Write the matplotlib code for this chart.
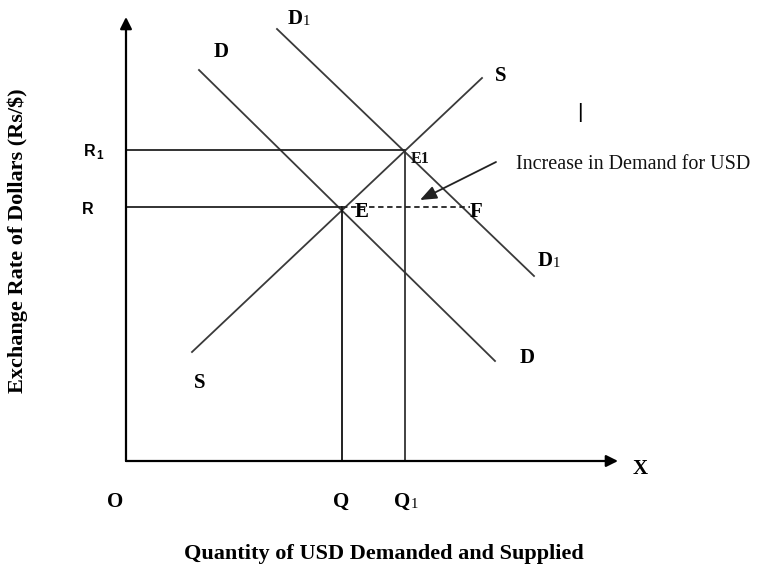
import matplotlib
matplotlib.use("Agg")
import matplotlib.pyplot as plt

# ---- data (diagram units: origin O at the axes corner, y upward) ----
x_axis_end = 492
y_axis_end = 444

demand_D_x = [73, 369]
demand_D_y = [391, 100]
demand_D1_x = [151, 408]
demand_D1_y = [432, 185]
supply_S_x = [66, 356]
supply_S_y = [109, 383]

eq_E = (216, 254)
eq_E1 = (279, 311)
point_F = (344, 254)

price_levels = [eq_E1[1], eq_E[1]]
qty_levels = [0, eq_E[0], eq_E1[0]]

annotation_text = "Increase in Demand for USD"
arrow_tail = (370, 299)
arrow_head = (294, 261)

x_title = "Quantity of USD Demanded and Supplied"
y_title = "Exchange Rate of Dollars (Rs/$)"

# ---- figure ----
W, H = 778, 566
ox, oy = 126, 461
fig = plt.figure(figsize=(W / 100, H / 100), dpi=100)
ax = fig.add_axes([0, 0, 1, 1])
ax.set_xlim(-ox, W - ox)
ax.set_ylim(oy - H, oy)
ax.axis("off")

serif = "Liberation Serif"
sans = "Liberation Sans"
line_col = "#3a3a3a"

# axes with arrows
ax.annotate("", xy=(0, y_axis_end), xytext=(0, 0),
            arrowprops=dict(arrowstyle="-|>,head_length=0.7,head_width=0.35",
                            lw=1.6, color="black", shrinkA=0, shrinkB=0))
ax.annotate("", xy=(x_axis_end, 0), xytext=(0, 0),
            arrowprops=dict(arrowstyle="-|>,head_length=0.7,head_width=0.35",
                            lw=1.6, color="black", shrinkA=0, shrinkB=0))

# curves
ax.plot(demand_D_x, demand_D_y, color=line_col, lw=1.3)
ax.plot(demand_D1_x, demand_D1_y, color=line_col, lw=1.3)
ax.plot(supply_S_x, supply_S_y, color=line_col, lw=1.3)

# guide lines
ax.plot([0, eq_E1[0]], [eq_E1[1], eq_E1[1]], color="#222222", lw=1.3)
ax.plot([0, eq_E[0]], [eq_E[1], eq_E[1]], color="#222222", lw=1.3)
ax.plot([eq_E[0], eq_E[0]], [0, eq_E[1]], color="#111111", lw=1.3)
ax.plot([eq_E1[0], eq_E1[0]], [0, eq_E1[1]], color="#333333", lw=1.3)
ax.plot([eq_E[0], point_F[0]], [eq_E[1], point_F[1]], color="#222222", lw=1.3,
        linestyle=(0, (3, 2)))

# arrow for increase
ax.annotate("", xy=arrow_head, xytext=arrow_tail,
            arrowprops=dict(arrowstyle="-|>,head_length=1.0,head_width=0.4",
                            lw=1.3, color="#222222", shrinkA=0, shrinkB=0))
ax.text(390, 292, annotation_text, fontsize=14.5, family=serif,
        ha="left", va="baseline", color="#111111")
ax.text(454, 348, "|", fontsize=15, family=sans, ha="center", va="center")

bold = dict(family=serif, fontweight="bold", fontsize=15, color="black",
            va="baseline")
sub = dict(family=serif, fontsize=10.5, color="black", ha="left", va="baseline")


def label_with_sub(cx, base, main, subtxt, sub_left, sub_base):
    ax.text(cx, base, main, ha="center", **bold)
    ax.text(sub_left, sub_base, subtxt, **sub)


# curve labels
label_with_sub(169, 437, "D", "1", 177, 436)
ax.text(95, 404, "D", ha="center", **bold)
ax.text(375, 380, "S", ha="center", **bold)
label_with_sub(419.5, 195, "D", "1", 426.5, 194)
ax.text(401, 98, "D", ha="center", **bold)
ax.text(73.5, 73, "S", ha="center", **bold)

# point labels
ax.text(236, 244, "E", ha="center", **bold)
ax.text(350, 244, "F", ha="center", **bold)
ax.text(285, 298, "E1", ha="left", va="baseline", family=serif,
        fontsize=11.5, fontweight="bold", color="#111111")

# price labels
ax.text(-36, 305, "R", ha="center", va="baseline",
        family=sans, fontweight="bold", fontsize=11.5)
ax.text(-30, 302, "1", ha="left", va="baseline",
        family=sans, fontweight="bold", fontsize=8.5)
ax.text(-38, 247, "R", ha="center", va="baseline",
        family=sans, fontweight="bold", fontsize=11.5)

# quantity labels
ax.text(qty_levels[0] - 11, -46, "O", ha="center", **bold)
ax.text(qty_levels[1] - 1, -46, "Q", ha="center", **bold)
label_with_sub(qty_levels[2] - 2.5, -46, "Q", "1", 284.5, -47)
ax.text(514, -13, "X", ha="center", **bold)

# titles
ax.text(258, -98, x_title, ha="center", va="baseline", family=serif,
        fontweight="bold", fontsize=16)
ax.text(-108, 220, y_title, ha="center", va="center", rotation=90,
        family=serif, fontweight="bold", fontsize=16)

fig.savefig("out.png", dpi=100)
